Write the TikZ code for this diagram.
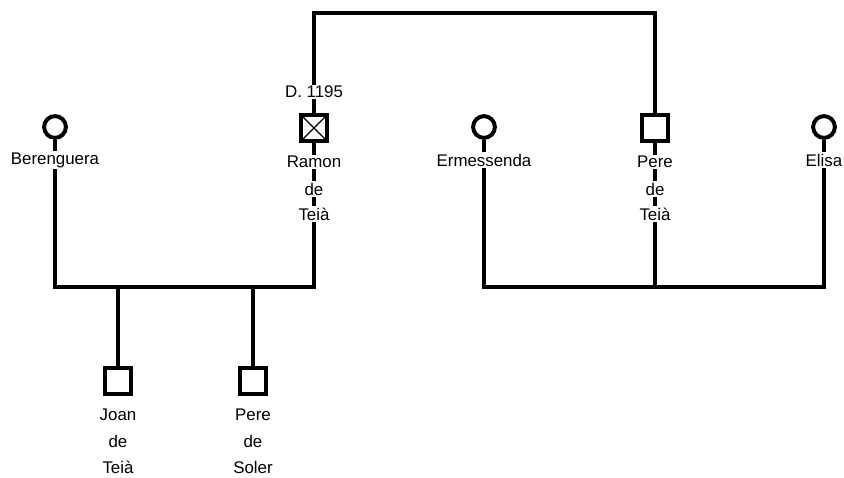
\documentclass[tikz,border=0pt]{standalone}
\usepackage{fontspec}
\setmainfont{Liberation Sans}
\usetikzlibrary{positioning,backgrounds}

\begin{document}
\begin{tikzpicture}[x=0.025cm,y=-0.025cm,
  male/.style={draw,line width=3.2pt,minimum size=18.5pt,inner sep=0pt,fill=white},
  female/.style={circle,draw,line width=2.8pt,minimum size=15.5pt,inner sep=0pt,fill=white},
  dead/.style={path picture={\draw[line width=0.8pt]
    (path picture bounding box.north west) -- (path picture bounding box.south east)
    (path picture bounding box.north east) -- (path picture bounding box.south west);}},
  tag/.style={fill=white,inner sep=1pt,font=\fontsize{12}{14}\selectfont},
  link/.style={line width=3.4pt}]
\useasboundingbox (0,0) rectangle (844,478);
\coordinate (top) at (0,13);
\coordinate (bar) at (0,287);
% parents
\node[female] (berenguera) at (55,127) {};
\node[male,dead] (ramon) at (314,128) {};
\node[female] (ermessenda) at (484,127) {};
\node[male] (pere) at (655,128) {};
\node[female] (elisa) at (824,127) {};
% children
\node[male] (joan) at (118,381) {};
\node[male] (soler) at (253,381) {};
% names
\node[tag] (ramon-d) at (314,92) {D. 1195};
\node[tag] (berenguera-1) at (55,160) {Berenguera};
\node[tag] (ramon-1) at (314,162) {Ramon};
\node[tag] (ramon-2) at (314,189) {de};
\node[tag] (ramon-3) at (314,214) {Teià};
\node[tag] (ermessenda-1) at (484,160) {Ermessenda};
\node[tag] (pere-1) at (655,162) {Pere};
\node[tag] (pere-2) at (655,189) {de};
\node[tag] (pere-3) at (655,214) {Teià};
\node[tag] (elisa-1) at (824,160) {Elisa};
\node[tag] (joan-1) at (118,415) {Joan};
\node[tag] (joan-2) at (118,441) {de};
\node[tag] (joan-3) at (118,467) {Teià};
\node[tag] (soler-1) at (253,415) {Pere};
\node[tag] (soler-2) at (253,441) {de};
\node[tag] (soler-3) at (253,467) {Soler};
% lines
\begin{scope}[on background layer]
\draw[link] (ramon) -- (ramon |- top) -- (pere |- top) -- (pere);
\draw[link] (berenguera) -- (berenguera |- bar) -- (ramon |- bar) -- (ramon);
\draw[link] (joan |- bar) -- (joan);
\draw[link] (soler |- bar) -- (soler);
\draw[link] (ermessenda) -- (ermessenda |- bar) -- (elisa |- bar) -- (elisa);
\draw[link] (pere |- bar) -- (pere);
\end{scope}
\end{tikzpicture}
\end{document}
